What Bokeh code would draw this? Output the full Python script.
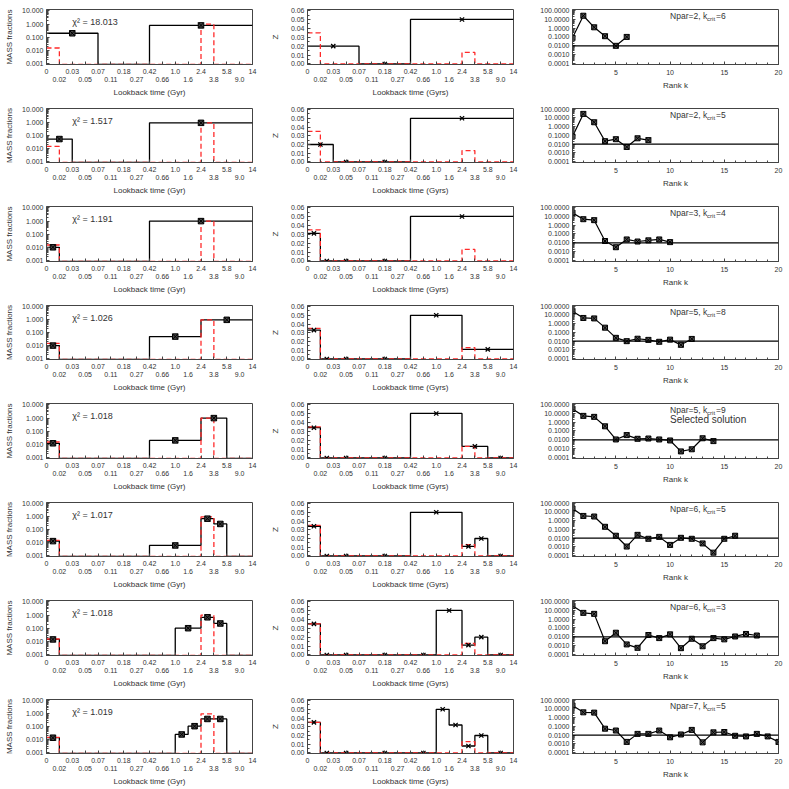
from bokeh.plotting import figure
from bokeh.models import (Range1d, FixedTicker, LinearAxis,
                          PrintfTickFormatter, Span)
from bokeh.layouts import column, row
from bokeh.core.properties import value
from bokeh.embed import file_html
from bokeh.resources import INLINE

# ---------------- data ----------------
TIME_LABELS = ["0", "0.02", "0.03", "0.05", "0.07", "0.11", "0.18", "0.27", "0.42",
               "0.66", "1.0", "1.6", "2.4", "3.8", "5.8", "9.0", "14"]

CHI2 = ["18.013", "1.517", "1.191", "1.026", "1.018", "1.017", "1.018", "1.019"]

# bin edges are positions on the lookback-time tick grid (index of TIME_LABELS)
EDGES_1 = [0, 4, 8, 16]
MASS_1 = [0.2, 0, 0.8]
Z_1 = [0.02, 0, 0.05]

EDGES_2 = [0, 2, 4, 8, 16]
MASS_2 = [0.055, 0, 0, 1.0]
Z_2 = [0.02, 0, 0, 0.05]

EDGES_3 = [0, 1, 2, 4, 8, 16]
MASS_3 = [0.01, 0, 0, 0, 1.0]
Z_3 = [0.031, 0, 0, 0, 0.05]

EDGES_4 = [0, 1, 2, 4, 8, 12, 16]
MASS_4 = [0.01, 0, 0, 0, 0.05, 1.0]
Z_4 = [0.033, 0, 0, 0, 0.05, 0.011]

EDGES_5 = [0, 1, 2, 4, 8, 12, 14, 16]
MASS_5 = [0.012, 0, 0, 0, 0.02, 1.0, 0]
Z_5 = [0.034, 0, 0, 0, 0.05, 0.013, 0]

EDGES_6 = [0, 1, 2, 4, 8, 12, 13, 14, 16]
MASS_6 = [0.013, 0, 0, 0, 0.006, 0.72, 0.28, 0]
Z_6 = [0.034, 0, 0, 0, 0.05, 0.011, 0.02, 0]

EDGES_7 = [0, 1, 2, 4, 8, 10, 12, 13, 14, 16]
MASS_7 = [0.014, 0, 0, 0, 0, 0.1, 0.68, 0.23, 0]
Z_7 = [0.035, 0, 0, 0, 0, 0.05, 0.011, 0.02, 0]

EDGES_8 = [0, 1, 2, 4, 8, 10, 11, 12, 13, 14, 16]
MASS_8 = [0.014, 0, 0, 0, 0, 0.025, 0.11, 0.4, 0.4, 0]
Z_8 = [0.035, 0, 0, 0, 0, 0.05, 0.032, 0.008, 0.02, 0]

TRUE_EDGES = [0, 1, 12, 13, 16]
TRUE_MASS = [0.015, 0, 1.0, 0]
TRUE_Z = [0.035, 0, 0.013, 0]

NPAR = [2, 2, 3, 5, 5, 6, 6, 7]
KCRIT = [6, 5, 4, 8, 9, 5, 3, 5]
SELECTED_ROW = 4

RANK_1 = [0.08, 24, 1.2, 0.12, 0.01, 0.1]
RANK_2 = [0.076, 29, 3.2, 0.022, 0.037, 0.0048, 0.047, 0.029]
RANK_3 = [23, 4.5, 3.5, 0.016, 0.0032, 0.024, 0.014, 0.019, 0.024, 0.012]
RANK_4 = [27, 4.5, 4.0, 0.35, 0.024, 0.01, 0.019, 0.014, 0.0085, 0.015, 0.0038, 0.018]
RANK_5 = [29, 4.9, 3.8, 0.33, 0.011, 0.034, 0.013, 0.014, 0.011, 0.0085, 0.0005,
          0.00087, 0.015, 0.0072]
RANK_6 = [25, 3.5, 3.0, 0.2, 0.019, 0.0011, 0.024, 0.0085, 0.014, 0.0017, 0.011,
          0.0085, 0.0025, 0.00022, 0.0085, 0.019]
RANK_7 = [30, 4.9, 3.8, 0.0032, 0.029, 0.0014, 0.00058, 0.016, 0.0072, 0.019,
          0.00053, 0.0061, 0.00087, 0.0072, 0.0052, 0.011, 0.021, 0.014]
RANK_8 = [25, 4.1, 3.8, 0.055, 0.034, 0.0017, 0.014, 0.014, 0.034, 0.0057, 0.012,
          0.04, 0.0015, 0.021, 0.023, 0.0085, 0.0072, 0.014, 0.0072, 0.0017]
RANK_THRESHOLD = 0.01

EDGES = [EDGES_1, EDGES_2, EDGES_3, EDGES_4, EDGES_5, EDGES_6, EDGES_7, EDGES_8]
MASSES = [MASS_1, MASS_2, MASS_3, MASS_4, MASS_5, MASS_6, MASS_7, MASS_8]
ZS = [Z_1, Z_2, Z_3, Z_4, Z_5, Z_6, Z_7, Z_8]
RANKS = [RANK_1, RANK_2, RANK_3, RANK_4, RANK_5, RANK_6, RANK_7, RANK_8]

# ---------------- style ----------------
FONT = "Liberation Sans"
AX = "#444444"
TXT = "#333333"
RED = "#ff2a2a"
MASS_FLOOR = 0.00086
MASS_RANGE = (0.00083, 13.0)
Z_RANGE = (-0.0006, 0.0612)
RANK_RANGE = (8e-5, 120.0)
ROW_H = [99, 98, 99, 98, 99, 98, 99, 98]
FRAME_H = 57
TOP = 9


def style_axis(ax, label_size="7px"):
    ax.axis_line_color = AX
    ax.axis_line_width = 1
    ax.major_tick_in = 3
    ax.major_tick_out = 0
    ax.minor_tick_in = 2
    ax.minor_tick_out = 0
    ax.major_tick_line_color = AX
    ax.minor_tick_line_color = AX
    ax.major_label_text_font = FONT
    ax.major_label_text_font_size = label_size
    ax.major_label_text_color = TXT
    ax.axis_label_text_font = FONT
    ax.axis_label_text_font_size = "8px"
    ax.axis_label_text_font_style = "normal"
    ax.axis_label_text_color = TXT
    ax.major_label_standoff = 3
    ax.axis_label_standoff = 3


def decade_minor(lo_exp, hi_exp):
    out = []
    for e in range(lo_exp, hi_exp):
        for m in range(2, 10):
            out.append(m * 10.0 ** e)
    return out


def time_axes(p, xlabel):
    ticks = list(range(len(TIME_LABELS)))
    even = [i for i in ticks if i % 2 == 0]
    odd = [i for i in ticks if i % 2 == 1]
    ax = p.xaxis[0]
    ax.ticker = FixedTicker(ticks=even, minor_ticks=odd)
    style_axis(ax)
    ax.minor_tick_in = 3
    ax.major_label_overrides = {i: TIME_LABELS[i] for i in even}
    ax.major_label_standoff = 4
    ax2 = LinearAxis(ticker=FixedTicker(ticks=odd))
    style_axis(ax2)
    ax2.axis_line_color = None
    ax2.major_tick_line_color = None
    ax2.minor_tick_line_color = None
    ax2.major_label_overrides = {i: TIME_LABELS[i] for i in odd}
    ax2.major_label_standoff = 0
    ax2.axis_label = xlabel
    ax2.axis_label_standoff = 3
    p.add_layout(ax2, "below")


def new_fig(w, h, left, right, xr, yr, ylog):
    p = figure(width=w, height=h, x_range=Range1d(*xr), y_range=Range1d(*yr),
               y_axis_type="log" if ylog else "linear",
               output_backend="svg", toolbar_location=None,
               min_border_left=left, min_border_right=right,
               min_border_top=TOP, min_border_bottom=h - TOP - FRAME_H)
    p.xgrid.visible = False
    p.ygrid.visible = False
    p.outline_line_color = AX
    p.outline_line_width = 1
    p.background_fill_color = "white"
    return p


def step_data(edges, vals, floor):
    y = [v if v > 0 else floor for v in vals]
    return list(edges), y + [y[-1]]


rows = []
for r in range(8):
    h = ROW_H[r]
    edges = EDGES[r]
    centers = [(edges[i] + edges[i + 1]) / 2 for i in range(len(edges) - 1)]

    # ---- mass panel ----
    p1 = new_fig(263, h, 46, 11, (0, 16), MASS_RANGE, True)
    time_axes(p1, "Lookback time (Gyr)")
    yax = p1.yaxis[0]
    style_axis(yax)
    yax.ticker = FixedTicker(ticks=[0.001, 0.01, 0.1, 1.0, 10.0],
                             minor_ticks=decade_minor(-3, 2))
    yax.formatter = PrintfTickFormatter(format="%.3f")
    yax.axis_label = "MASS fractions"
    yax.axis_label_standoff = 5
    x, y = step_data(edges, MASSES[r], MASS_FLOOR)
    p1.step(x=x, y=y, mode="after", line_color="black", line_width=1.3)
    tx, ty = step_data(TRUE_EDGES, TRUE_MASS, MASS_FLOOR)
    p1.step(x=tx, y=ty, mode="after", line_color=RED, line_width=1.3, line_dash="5 3")
    mc = [c for c, v in zip(centers, MASSES[r]) if v > 0]
    mv = [v for v in MASSES[r] if v > 0]
    p1.scatter(x=mc, y=mv, marker="square_x", size=5.5, line_color="black",
               fill_color="#444444", line_width=1)
    p1.text(x=[2.0], y=[1.4], text=["\u03c7\u00b2 = " + CHI2[r]],
            text_font=value(FONT), text_font_size="9px", text_color=TXT,
            text_baseline="middle", text_align="left")

    # ---- metallicity panel ----
    p2 = new_fig(263, h, 44, 13, (0, 16), Z_RANGE, False)
    time_axes(p2, "Lookback time (Gyrs)")
    yax = p2.yaxis[0]
    style_axis(yax)
    yax.ticker = FixedTicker(ticks=[0.0, 0.01, 0.02, 0.03, 0.04, 0.05, 0.06],
                             minor_ticks=[0.005 * i for i in range(13)])
    yax.formatter = PrintfTickFormatter(format="%.2f")
    yax.axis_label = "Z"
    yax.axis_label_standoff = 8
    x, y = step_data(edges, ZS[r], 0.0)
    p2.step(x=x, y=y, mode="after", line_color="black", line_width=1.3)
    tx, ty = step_data(TRUE_EDGES, TRUE_Z, 0.0)
    p2.step(x=tx, y=ty, mode="after", line_color=RED, line_width=1.3, line_dash="5 3")
    p2.scatter(x=centers, y=ZS[r], marker="x", size=6, line_color="black", line_width=1.3)

    # ---- rank panel ----
    p3 = new_fig(260, h, 46, 8, (1, 20), RANK_RANGE, True)
    xax = p3.xaxis[0]
    style_axis(xax)
    xax.ticker = FixedTicker(ticks=[5, 10, 15, 20], minor_ticks=list(range(1, 21)))
    xax.axis_label = "Rank k"
    xax.major_label_standoff = 5
    yax = p3.yaxis[0]
    style_axis(yax)
    yax.ticker = FixedTicker(ticks=[1e-4, 1e-3, 1e-2, 1e-1, 1.0, 10.0, 100.0],
                             minor_ticks=decade_minor(-4, 2))
    yax.formatter = PrintfTickFormatter(format="%.4f")
    p3.add_layout(Span(location=RANK_THRESHOLD, dimension="width",
                       line_color="black", line_width=1.3))
    ks = list(range(1, len(RANKS[r]) + 1))
    p3.line(x=ks, y=RANKS[r], line_color="black", line_width=1.2)
    p3.scatter(x=ks, y=RANKS[r], marker="square_x", size=5, line_color="black",
               fill_color="#555555", line_width=1)
    p3.text(x=[10], y=[20], text=["Npar=%d, k" % NPAR[r]], text_font=value(FONT),
            text_font_size="8.5px", text_color=TXT, text_baseline="middle")
    p3.text(x=[10], y=[20], text=["crit"], x_offset=37, y_offset=3,
            text_font=value(FONT), text_font_size="6px", text_color=TXT,
            text_baseline="middle")
    p3.text(x=[10], y=[20], text=["=%d" % KCRIT[r]], x_offset=46,
            text_font=value(FONT), text_font_size="8.5px", text_color=TXT,
            text_baseline="middle")
    if r == SELECTED_ROW:
        p3.text(x=[10], y=[1.8], text=["Selected solution"], text_font=value(FONT),
                text_font_size="10px", text_color=TXT, text_baseline="middle")

    rows.append(row(p1, p2, p3))

layout = column(*rows)
open("out.html", "w").write(file_html(layout, INLINE))
